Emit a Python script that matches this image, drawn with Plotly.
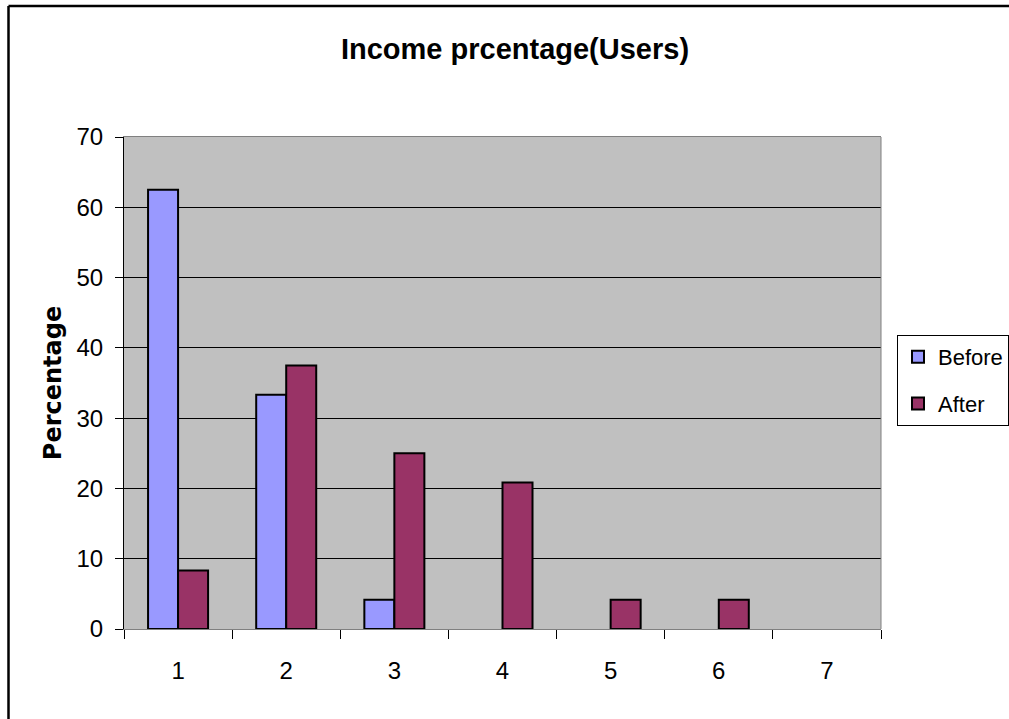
import plotly.graph_objects as go

categories = ["1", "2", "3", "4", "5", "6", "7"]
before = [62.5, 33.33, 4.17, 0, 0, 0, 0]
after = [8.33, 37.5, 25.0, 20.83, 4.17, 4.17, 0]
y_ticks = [0, 10, 20, 30, 40, 50, 60, 70]

W, H = 1009, 719
# plot area in window pixels
L, R, T, B = 124, 881, 137, 629

def px(x):
    return (x - L) / (R - L)

def py(y):
    return (B - y) / (B - T)

def blank_zero(vals):
    return [v if v else None for v in vals]

fig = go.Figure()
fig.add_trace(go.Bar(name="Before", x=categories, y=blank_zero(before), legendgroup="b",
                     marker=dict(color="#9999FF", line=dict(color="black", width=2))))
fig.add_trace(go.Bar(name="After", x=categories, y=blank_zero(after), legendgroup="a",
                     marker=dict(color="#993366", line=dict(color="black", width=2))))

font = "Liberation Sans, Arial, sans-serif"
fig.update_layout(
    width=W, height=H,
    margin=dict(l=L, r=W - R, t=T, b=H - B, pad=0, autoexpand=False),
    paper_bgcolor="white", plot_bgcolor="#C0C0C0",
    barmode="group", bargap=0.445, bargroupgap=0,
    title=dict(text="<b>Income prcentage(Users)</b>", x=px(515), xref="paper", xanchor="center",
               y=1 - 49 / H, yref="container", yanchor="middle",
               font=dict(family=font, size=29, color="black")),
    font=dict(family=font, size=24, color="black"),
    showlegend=True,
    legend=dict(x=px(897), y=py(335), xanchor="left", yanchor="top",
                bgcolor="white", bordercolor="black", borderwidth=1,
                font=dict(family=font, size=22, color="black"),
                tracegroupgap=15, traceorder="grouped", itemwidth=30),
    xaxis=dict(type="category", showgrid=False, tickson="boundaries",
               ticks="outside", ticklen=9, tickcolor="black", tickwidth=1,
               showline=True, linecolor="#808080", linewidth=1, mirror=True,
               ticklabelstandoff=20, tickfont=dict(size=24)),
    yaxis=dict(range=[0, 70], tickvals=y_ticks, showgrid=True, gridcolor="black", gridwidth=1,
               zeroline=False, ticks="outside", ticklen=8, tickcolor="black",
               showline=True, linecolor="black", linewidth=1,
               ticklabelstandoff=7, tickfont=dict(size=24),
               title=dict(text="<b>Percentage</b>", standoff=8,
                          font=dict(family="DejaVu Sans", size=24, color="black"))),
    shapes=[
        dict(type="line", xref="paper", yref="paper", x0=1, x1=1, y0=0, y1=1,
             line=dict(color="#808080", width=1)),
        dict(type="line", xref="paper", yref="paper", x0=px(8.5), x1=px(1015), y0=py(6), y1=py(6),
             line=dict(color="black", width=2.5)),
        dict(type="line", xref="paper", yref="paper", x0=px(8.5), x1=px(8.5), y0=py(6), y1=py(725),
             line=dict(color="black", width=2.5)),
    ],
)

fig.write_html("out.html", config={"displayModeBar": False},
               post_script="document.body.style.margin='0';")
